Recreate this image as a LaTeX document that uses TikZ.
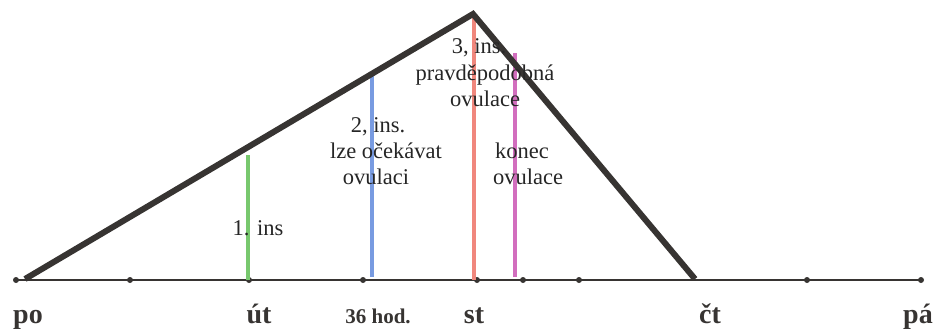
\documentclass[tikz,border=0pt]{standalone}
\usepackage{fontspec}
\setmainfont{Liberation Serif}
\definecolor{tri}{RGB}{55,52,50}
\definecolor{gline}{RGB}{120,200,110}
\definecolor{bline}{RGB}{120,155,225}
\definecolor{rline}{RGB}{240,135,125}
\definecolor{pline}{RGB}{210,110,190}
\begin{document}
\begin{tikzpicture}[x=1bp,y=-1bp,
  daylbl/.style={anchor=base,font=\bfseries\fontsize{28bp}{30bp}\selectfont,text=tri,inner sep=0pt},
  smalllbl/.style={anchor=base,font=\bfseries\fontsize{21bp}{24bp}\selectfont,text=tri,inner sep=0pt},
  note/.style={anchor=base,font=\fontsize{22.5bp}{26bp}\selectfont,text=black!85,inner sep=0pt},
  dotm/.style={circle,fill=tri,inner sep=0pt,minimum size=6bp},
  insline/.style={line width=4.5bp}]
\useasboundingbox (0,0) rectangle (945,332);
% axis dots
\node[dotm] (d1) at (16,280) {};
\node[dotm] (d2) at (130,280) {};
\node[dotm] (d3) at (249,280) {};
\node[dotm] (d4) at (363,280) {};
\node[dotm] (d5) at (477,280) {};
\node[dotm] (d6) at (523,280) {};
\node[dotm] (d7) at (579,280) {};
\node[dotm] (d8) at (807,280) {};
\node[dotm] (d9) at (921,280) {};
\draw[tri,line width=1.8bp] (d1.center) -- (d9.center);
% coloured lines
\coordinate (g0) at (248,280); \coordinate (g1) at (248,155);
\coordinate (b0) at (372,277); \coordinate (b1) at (372,73);
\coordinate (r0) at (474,280); \coordinate (r1) at (474,17);
\coordinate (p0) at (515,277); \coordinate (p1) at (515,53);
\draw[insline,gline] (g0) -- (g1);
\draw[insline,bline] (b0) -- (b1);
\draw[insline,rline] (r0) -- (r1);
\draw[insline,pline] (p0) -- (p1);
% triangle
\coordinate (ta) at (25,279);
\coordinate (tb) at (473,14);
\coordinate (tc) at (695,279);
\draw[tri,line width=6bp,line join=miter] (ta) -- (tb) -- (tc);
% notes
\node[note] (n1) at (258,235) {1. ins};
\node[note] (n2a) at (378,132) {2, ins.};
\node[note] (n2b) at (386,158) {lze očekávat};
\node[note] (n2c) at (376,184) {ovulaci};
\node[note] (n3a) at (479,53) {3, ins.};
\node[note] (n3b) at (485,80) {pravděpodobná};
\node[note] (n3c) at (485,106) {ovulace};
\node[note] (n4a) at (522,158) {konec};
\node[note] (n4b) at (528,184) {ovulace};
% day labels
\node[daylbl] (po) at (28,323) {po};
\node[daylbl] (ut) at (259,323) {út};
\node[smalllbl] (h36) at (378,323) {36 hod.};
\node[daylbl] (st) at (474,323) {st};
\node[daylbl] (ct) at (710,323) {čt};
\node[daylbl] (pa) at (918,323) {pá};
\end{tikzpicture}
\end{document}
